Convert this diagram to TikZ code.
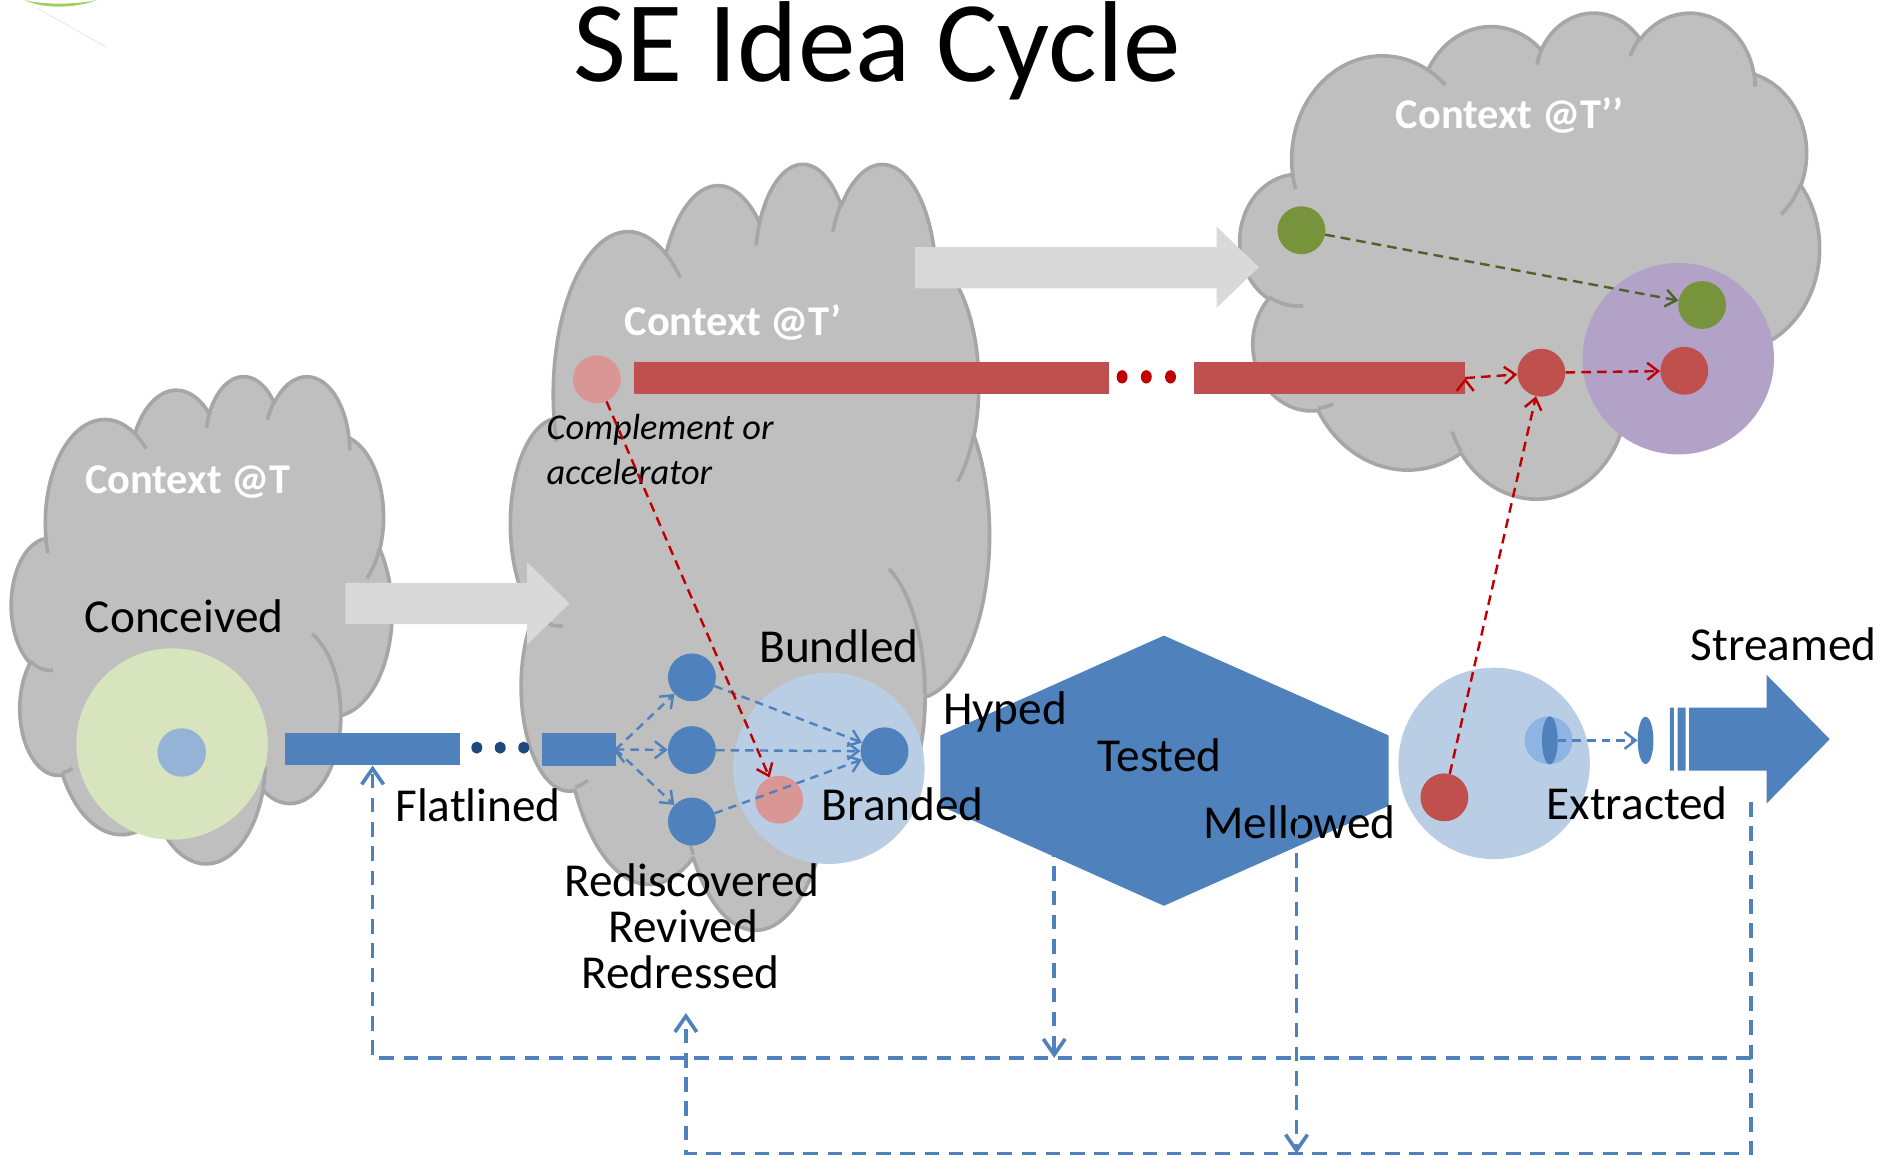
\documentclass[tikz,border=0pt]{standalone}
\usepackage{fontspec}
\setmainfont{Carlito}
\usetikzlibrary{arrows.meta,shapes.geometric,positioning}

\definecolor{cloudfill}{HTML}{BFBFBF}
\definecolor{cloudline}{HTML}{A6A6A6}
\definecolor{shiftgray}{HTML}{D9D9D9}
\definecolor{ideablue}{HTML}{4F81BD}
\definecolor{paleblue}{HTML}{B9CDE5}
\definecolor{softblue}{HTML}{95B3D7}
\definecolor{skyblue}{HTML}{8EB4E3}
\definecolor{navy}{HTML}{1F497D}
\definecolor{palegreen}{HTML}{D7E4BD}
\definecolor{leaf}{HTML}{77933C}
\definecolor{darkleaf}{HTML}{4F6228}
\definecolor{lime}{HTML}{8DC641}
\definecolor{brick}{HTML}{C0504D}
\definecolor{blood}{HTML}{C00000}
\definecolor{rose}{HTML}{D99694}
\definecolor{lilac}{HTML}{B3A2C7}

\tikzset{
  cloudbody/.style={fill=cloudfill, draw=cloudline, line width=3pt, line join=round},
  cloudrim/.style={draw=cloudline, line width=3pt},
  puff/.style n args={4}{x radius=#1, y radius=#2,
    start angle={atan2(#1*sin(#3),#2*cos(#3))},
    delta angle={mod(atan2(#1*sin(#3+#4),#2*cos(#3+#4))-atan2(#1*sin(#3),#2*cos(#3))+720,360)}},
}

% office style cloud: left, top, width, height (drawn in a 4320 x 4320 frame)
\newcommand{\ideacloud}[4]{%
  \pgfmathsetmacro\cldw{#3/4320}%
  \pgfmathsetmacro\cldh{#4/4320}%
  \begin{scope}[shift={(#1,#2)}, x=\cldw pt, y=-\cldh pt]
    \filldraw[cloudbody] (390,1437)
      \foreach \w/\h/\s/\d in {675.3/919.0/-190.4875/123.7805, 533.3/726.7/-144.1024/89.9452,
          436.5/594.5/-145.8079/99.7230, 485.7/659.5/-130.9861/117.2417,
          533.3/727.3/-78.7089/109.0269, 677.5/922.0/-46.2673/130.2690,
          578.5/786.7/0.6250/114.0333, 675.2/921.5/22.4516/115.1726,
          772.0/1054.3/66.2426/75.7110, 436.0/591.8/-274.9421/146.7356,
          434.5/594.5/-246.8285/152.5189}
        {arc[puff={\w}{\h}{\s}{\d}]} -- cycle;
    \foreach \px/\py/\w/\h/\s/\d in {469.3/2617.7/434.5/594.5/86.7420/26.4295,
        692.8/3489.9/436.0/591.8/73.6105/11.4475, 1647.8/3909.0/675.2/921.5/137.6242/14.0811,
        2882.7/3475.1/675.2/921.5/6.4533/15.9984, 3412.9/2295.4/578.5/786.7/-70.2924/70.9174,
        4179.8/1535.4/533.3/727.3/30.3180/27.7515, 3832.4/542.6/485.7/659.5/-13.7443/14.8589,
        2907.8/395.2/485.7/659.5/-149.1815/18.1954, 2214.1/472.0/436.5/594.5/-163.4943/17.6864,
        1400.0/519.2/675.3/919.0/-66.7070/12.3194, 412.7/1578.9/675.3/919.0/157.6544/11.8582}
      \draw[cloudrim] (\px,\py) arc[puff={\w}{\h}{\s}{\d}];
  \end{scope}}

\begin{document}
\begin{tikzpicture}[x=1pt, y=-1pt, >={Straight Barb[length=9pt,width=14pt]},
    every node/.style={inner sep=0pt},
    lbl/.style={font=\fontsize{39}{38}\selectfont, anchor=base},
    ctx/.style={font=\fontsize{35}{36}\selectfont\bfseries, text=white, anchor=base},
    blob/.style={circle, fill=#1, minimum size=39.5pt},
    halo/.style={circle, fill=#1, minimum size=158pt},
    ideabar/.style={rectangle, fill=#1, minimum height=27pt},
    flow/.style={->, draw=ideablue, line width=2pt, dash pattern=on 7pt off 5pt},
    trace/.style={->, draw=blood, line width=2pt, dash pattern=on 8pt off 5pt},
    loopback/.style={>={Straight Barb[length=13pt,width=18pt]}, ->, draw=ideablue,
      line width=3pt, dash pattern=on 12pt off 8pt}]
  \useasboundingbox (0,0) rectangle (1568,955);

  % corner of the slide logo
  \fill[lime!85] (20,0) .. controls (35,4) and (62,4) .. (80,0) .. controls (62,7) and (36,7.5) .. (20,0) -- cycle;
  \draw[black!10, line width=0.6pt] (31,7) -- (88,39);

  \node[font=\fontsize{95}{100}\selectfont, anchor=base] (title) at (724,67) {SE Idea Cycle};

  % contexts
  \ideacloud{9.5}{309.5}{314}{402}
  \ideacloud{421.5}{133.5}{395}{632}
  \ideacloud{1023.5}{9.5}{478}{401}
  \fill[shiftgray] (285,481) -- (435,481) -- (435,464) -- (470,498) -- (435,532) -- (435,515) -- (285,515) -- cycle;
  \fill[shiftgray] (755,204) -- (1004,204) -- (1004,187) -- (1039,220.5) -- (1004,254) -- (1004,238) -- (755,238) -- cycle;
  \node[ctx] (ctxA) at (155,407) {Context @T};
  \node[ctx] (ctxB) at (605,277) {Context @T’};
  \node[ctx] (ctxC) at (1246,106) {Context @T’’};

  % conceived and flatlined
  \node[halo=palegreen] (seed) at (142,614) {};
  \node[blob=softblue, minimum size=40pt] (idea) at (150,621) {};
  \node[ideabar=ideablue, minimum width=145pt] (bar1) at (307.5,618) {};
  \node[ideabar=ideablue, minimum width=61pt] (bar2) at (477.5,618.5) {};
  \foreach \x [count=\i] in {393.5,412.8,432.2}
    \node[ellipse, fill=navy, minimum width=9pt, minimum height=10pt] (gap\i) at (\x,617) {};

  % bundled and branded
  \node[halo=paleblue] (brandzone) at (684,634) {};
  \node[blob=ideablue] (ctop) at (571,559) {};
  \node[blob=ideablue] (cmid) at (571,619) {};
  \node[blob=ideablue] (cbot) at (571,678) {};
  \node[blob=ideablue] (brand) at (730,620) {};
  \node[blob=rose] (pinkB) at (643,660) {};
  \node[blob=rose] (pinkA) at (492.6,313) {};

  % hyped, tested, mellowed
  \fill[ideablue] (776,607) -- (960.5,524.5) -- (1146,607) -- (1146,665) -- (960.5,747.5) -- (776,665) -- cycle;
  \coordinate (tst) at (870,695);
  \coordinate (mlw) at (1070,664);

  % shift to the next context
  \node[ideabar=brick, minimum width=392pt, minimum height=26pt] (rbar1) at (719,312) {};
  \node[ideabar=brick, minimum width=224pt, minimum height=26pt] (rbar2) at (1097,312) {};
  \foreach \x [count=\i] in {926,946,966}
    \node[ellipse, fill=blood, minimum width=9pt, minimum height=11pt] (rgap\i) at (\x,311) {};
  \node[halo=lilac] (fitzone) at (1385,296) {};
  \node[blob=leaf] (grn1) at (1074,190) {};
  \node[blob=leaf] (grn2) at (1404.7,251.7) {};
  \node[blob=brick] (red1) at (1272,307.6) {};
  \node[blob=brick] (red2) at (1390,306) {};

  % extracted and streamed
  \node[halo=paleblue] (extzone) at (1233,630) {};
  \node[blob=brick] (redx) at (1192,658) {};
  \node[blob=skyblue] (core) at (1278,611) {};
  \node[ellipse, fill=ideablue, minimum width=13pt, minimum height=39.5pt] (ex1) at (1279,611) {};
  \node[ellipse, fill=ideablue, minimum width=13pt, minimum height=39pt] (ex2) at (1358,611) {};
  \fill[ideablue] (1378,584) rectangle (1381.3,636) (1384.5,584) rectangle (1391,636);
  \fill[ideablue] (1394,584) -- (1458,584) -- (1458,557) -- (1510,610) -- (1458,663) -- (1458,636) -- (1394,636) -- cycle;
  \coordinate (srm) at (1445,662);

  % labels
  \node[lbl] (conc) at (152,522) {Conceived};
  \node[lbl] (flat) at (394.5,678) {Flatlined};
  \node[lbl] (bund) at (692.5,547) {Bundled};
  \node[lbl] (brnd) at (745,677) {Branded};
  \node[lbl, anchor=center, align=center] (rdsc) at (571,764.5) {Rediscovered\\Revived\kern14pt\\Redressed\kern19pt};
  \node[lbl] (hyp) at (829.5,598) {Hyped};
  \node[lbl] (tstd) at (957,637) {Tested};
  \node[lbl] (mell) at (1072.5,692) {Mellowed};
  \node[lbl] (extr) at (1351,676) {Extracted};
  \node[lbl] (strm) at (1472,545) {Streamed};
  \node[font=\fontsize{30}{37}\selectfont\itshape, anchor=west, align=left] (compl) at (451,371) {Complement or\\accelerator};

  % connectors
  \path[flow] (bar2.east) edge (ctop) edge (cmid) edge (cbot)
    (ctop) edge (brand) (cmid) edge (brand) (cbot) edge (brand)
    (ex1) edge (ex2);
  \path[trace] (pinkA) edge (pinkB) (rbar2.east) edge (red1)
    (red1) edge (red2) (redx) edge (red1);
  \draw[->, draw=darkleaf, line width=2pt, dash pattern=on 8pt off 5pt] (grn1) -- (grn2);

  \coordinate (rjoin) at (1445,873);
  \coordinate (rbot) at (1445,952);
  \coordinate (rdtip) at (566,836);
  \draw[loopback] (rjoin) -| (bar1.south);
  \draw[loopback] (tst) -- (tst |- rjoin);
  \draw[loopback] (srm) -- (rbot) -| (rdtip);
  \draw[loopback] (mlw) -- (mlw |- rbot);
\end{tikzpicture}
\end{document}
